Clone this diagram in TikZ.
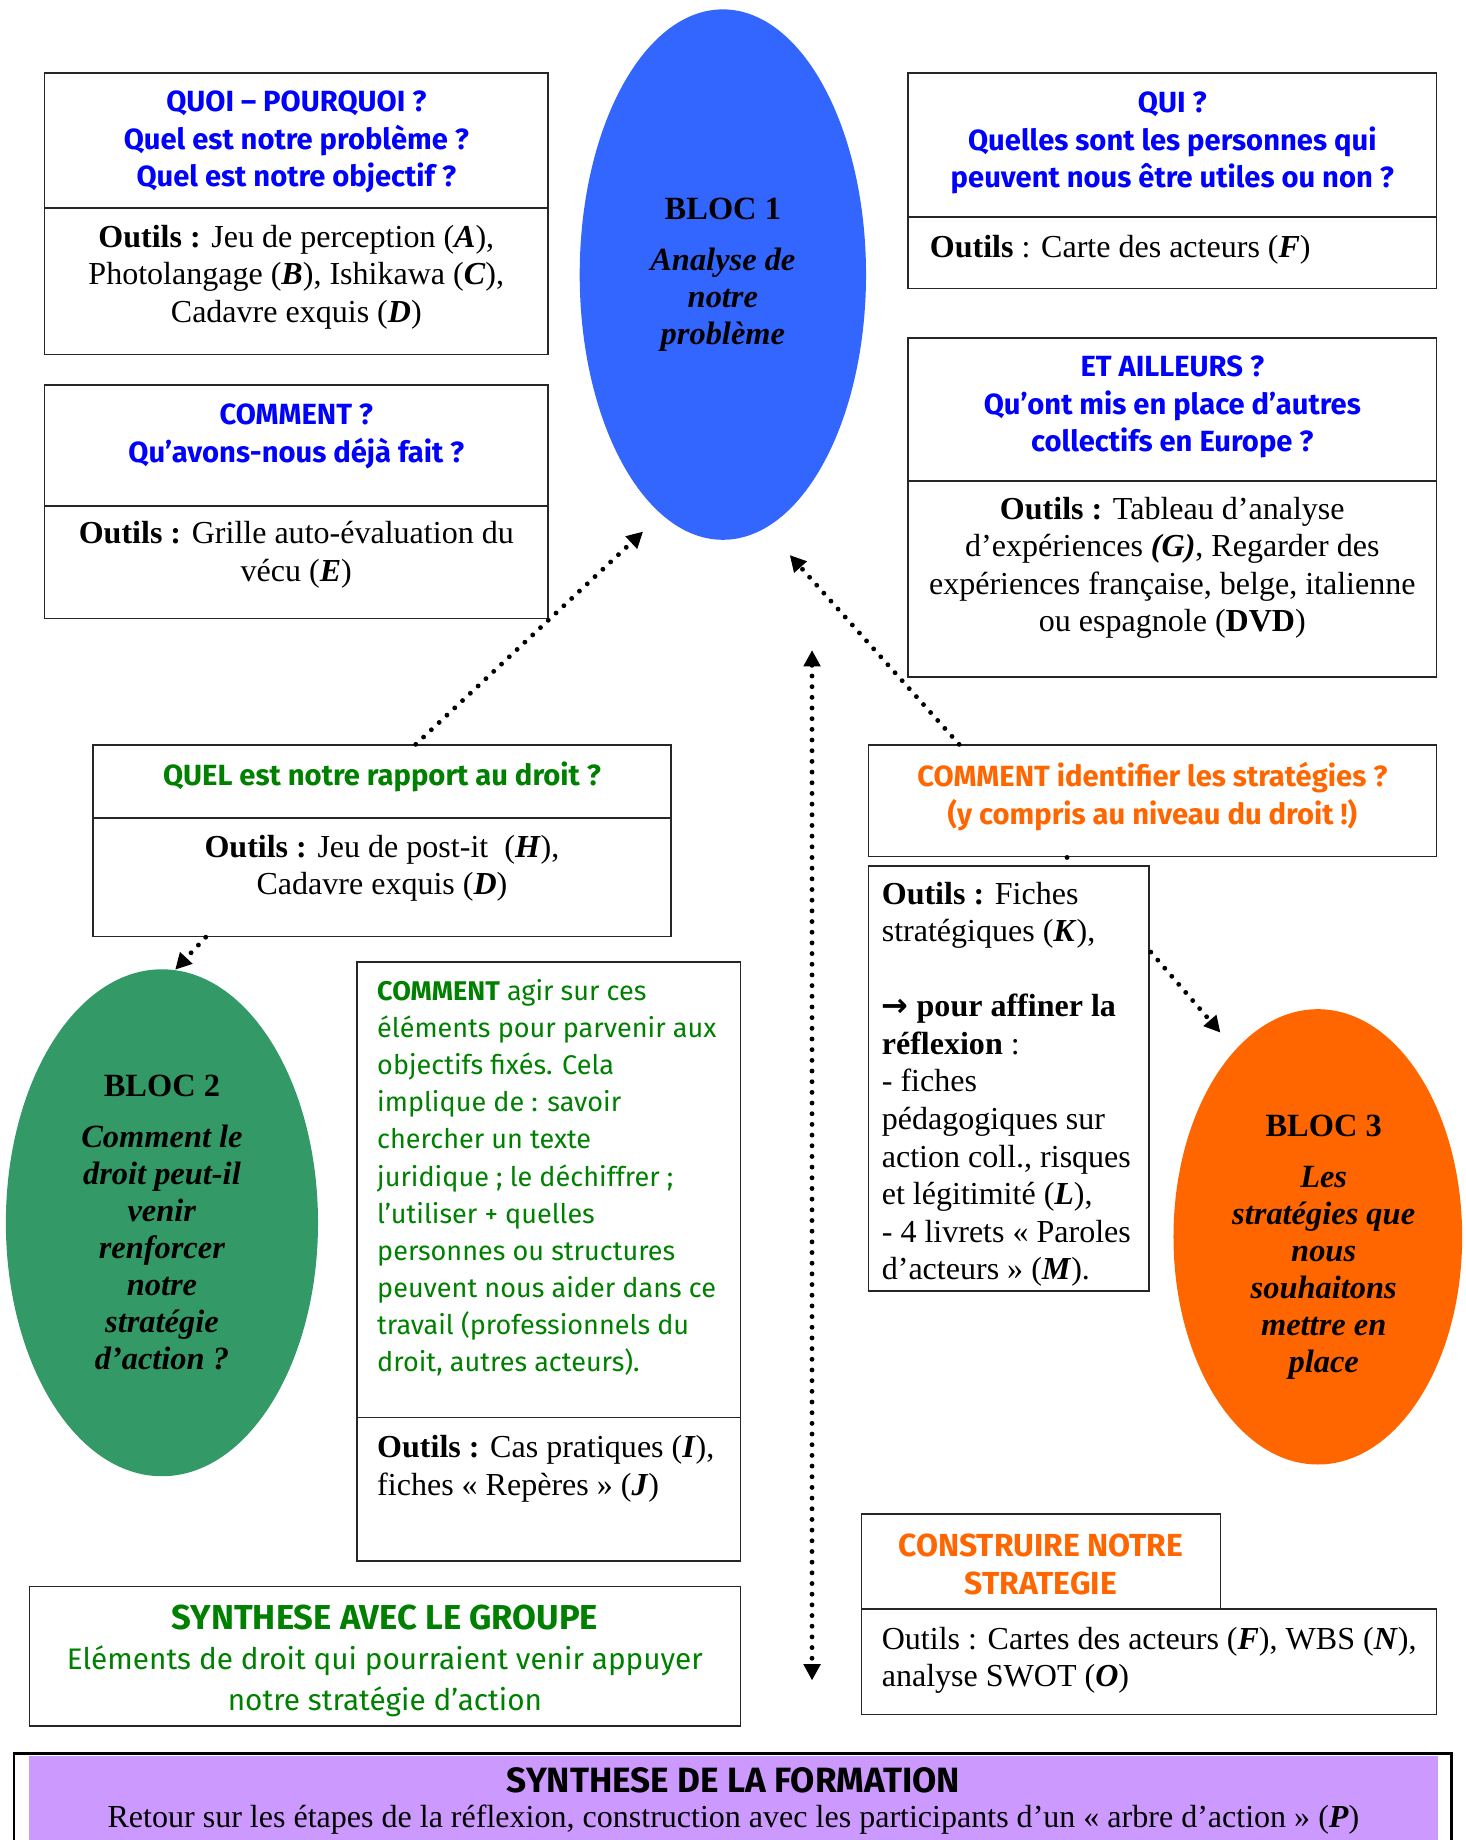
\documentclass[tikz,border=0pt]{standalone}
\usepackage{fontspec}
\setmainfont{Liberation Serif}
\newfontfamily\comic{Fira Sans}
\newfontfamily\symb{DejaVu Sans}
\usetikzlibrary{arrows.meta,calc,fit,shapes.geometric}
\definecolor{ColBlue}{RGB}{0,0,255}
\definecolor{ColGreen}{RGB}{0,128,0}
\definecolor{ColOrange}{RGB}{255,102,0}
\definecolor{BlocBlue}{RGB}{51,102,255}
\definecolor{BlocGreen}{RGB}{51,153,102}
\definecolor{BlocOrange}{RGB}{255,102,0}
\definecolor{Lilac}{RGB}{204,153,255}
\newcommand\pxu{0.015258cm}
\newcommand\Lt[1]{\textbf{\textit{#1}}}
\tikzstyle{Frame}=[draw=black!85,line width=0.6pt,inner sep=0pt]
\tikzstyle{Head}=[font=\comic\bfseries\fontsize{10.8}{13.9}\selectfont,align=center,inner sep=0pt]
\tikzstyle{Plain}=[font=\comic\fontsize{10}{13.75}\selectfont,align=left,inner sep=0pt]
\tikzstyle{Tool}=[font=\fontsize{11.85}{13.9}\selectfont,align=center,inner sep=0pt]
\tikzstyle{Bloc}=[ellipse,inner sep=0pt,align=center,font=\bfseries\fontsize{12}{13.7}\selectfont]
\tikzstyle{Dots}=[line width=1.8pt,line cap=round,dash pattern=on 0pt off 3.95pt]
\tikzstyle{DotArrow}=[Dots,-{Triangle[length=6pt,width=6pt]}]

\begin{document}
\begin{tikzpicture}[x=0.015258cm,y=-0.015258cm]
        \useasboundingbox (0,0) rectangle (1249,1568);
        % left column
        \node[Frame,fit={(38,62)(467,177)}](quoiHead){};
        \node[Frame,fit={(38,177)(467,302)}](quoiTools){};
        \node[Head,text=ColBlue](quoiQ)at(252.5,121){QUOI – POURQUOI ?\\Quel est notre problème ?\\Quel est notre objectif ?};
        \node[Tool](quoiT)at(252.5,236){\textbf{Outils :} Jeu de perception (\Lt{A}),\\Photolangage (\Lt{B}), Ishikawa (\Lt{C}),\\Cadavre exquis (\Lt{D})};
        \node[Frame,fit={(38,328)(467,431)}](commHead){};
        \node[Frame,fit={(38,431)(467,527)}](commTools){};
        \node[Head,text=ColBlue](commQ)at(252.5,372){COMMENT ?\\Qu’avons-nous déjà fait ?};
        \node[Tool](commT)at(252.5,473){\textbf{Outils :} Grille auto-évaluation du\\vécu (\Lt{E})};
        % right column
        \node[Frame,fit={(774,62)(1224,185)}](quiHead){};
        \node[Frame,fit={(774,185)(1224,246)}](quiTools){};
        \node[Head,text=ColBlue](quiQ)at(999,122){QUI ?\\Quelles sont les personnes qui\\peuvent nous être utiles ou non ?};
        \node[Tool,anchor=west](quiT)at(792,213){\textbf{Outils} : Carte des acteurs (\Lt{F})};
        \node[Frame,fit={(774,288)(1224,410)}](ailHead){};
        \node[Frame,fit={(774,410)(1224,577)}](ailTools){};
        \node[Head,text=ColBlue](ailQ)at(999,347){ET AILLEURS ?\\Qu’ont mis en place d’autres\\collectifs en Europe ?};
        \node[Tool](ailT)at(999,484){\textbf{Outils :} Tableau d’analyse\\d’expériences \Lt{(G)}, Regarder des\\expériences française, belge, italienne\\ou espagnole (\textbf{DVD})};
        % blocs
        \node[Bloc,fill=BlocBlue,minimum width=244*\pxu,minimum height=452*\pxu](bloc1)at(616,234){BLOC 1\\[5pt]\textit{Analyse de}\\\textit{notre}\\\textit{problème}};
        \node[Bloc,fill=BlocGreen,minimum width=266*\pxu,minimum height=432*\pxu](bloc2)at(138,1042){BLOC 2\\[5pt]\textit{Comment le}\\\textit{droit peut-il}\\\textit{venir}\\\textit{renforcer}\\\textit{notre}\\\textit{stratégie}\\\textit{d’action ?}};
        \node[Bloc,fill=BlocOrange,minimum width=246*\pxu,minimum height=388*\pxu](bloc3)at(1123,1054){};
        \node[Bloc,fill=none](bloc3T)at(1128,1063){BLOC 3\\[5pt]\textit{Les}\\\textit{stratégies que}\\\textit{nous}\\\textit{souhaitons}\\\textit{mettre en}\\\textit{place}};
        % middle row
        \node[Frame,fit={(79,635)(572,697)}](quelHead){};
        \node[Frame,fit={(79,697)(572,798)}](quelTools){};
        \node[Head,text=ColGreen](quelQ)at(325.5,662){QUEL est notre rapport au droit ?};
        \node[Tool](quelT)at(325.5,740){\textbf{Outils :} Jeu de post-it\ \ (\Lt{H}),\\Cadavre exquis (\Lt{D})};
        \node[Frame,fit={(740,635)(1224,730)}](identBox){};
        \node[Head,text=ColOrange](identQ)at(982,679){COMMENT identifier les stratégies ?\\(y compris au niveau du droit !)};
        \node[Frame,fit={(740,738)(979,1100)}](fichesBox){};
        \node[Tool,align=left,anchor=north west](fichesT)at(751,751){\textbf{Outils :} Fiches\\stratégiques (\Lt{K}),\\[13.9pt]{\symb\bfseries →} \textbf{pour affiner la}\\\textbf{réflexion} :\\- fiches\\pédagogiques sur\\action coll., risques\\et légitimité (\Lt{L}),\\- 4 livrets «~Paroles\\d’acteurs~» (\Lt{M}).};
        \node[Frame,fit={(304,820)(631,1208)}](agirHead){};
        \node[Frame,fit={(304,1208)(631,1330)}](agirTools){};
        \node[Plain,text=ColGreen,anchor=north west](agirQ)at(321,834){\textbf{COMMENT} agir sur ces\\éléments pour parvenir aux\\objectifs fixés. Cela\\implique de : savoir\\chercher un texte\\juridique ; le déchiffrer ;\\l’utiliser + quelles\\personnes ou structures\\peuvent nous aider dans ce\\travail (professionnels du\\droit, autres acteurs).};
        \node[Tool,align=left,anchor=north west](agirT)at(321,1223){\textbf{Outils :} Cas pratiques (\Lt{I}),\\fiches «~Repères~» (\Lt{J})};
        % bottom row
        \node[Frame,fit={(734,1290)(1040,1371)}](buildHead){};
        \node[Frame,fit={(734,1371)(1224,1461)}](buildTools){};
        \node[Head,text=ColOrange,font=\comic\bfseries\fontsize{11.8}{13.9}\selectfont](buildQ)at(887,1333){CONSTRUIRE NOTRE\\STRATEGIE};
        \node[Tool,align=left,anchor=north west](buildT)at(751,1386){Outils : Cartes des acteurs (\Lt{F}), WBS (\Lt{N}),\\analyse SWOT (\Lt{O})};
        \node[Frame,fit={(25,1352)(631,1471)}](synthBox){};
        \node[Plain,align=center,text=ColGreen,font=\comic\fontsize{11}{15}\selectfont](synthT)at(328,1415){{\bfseries\fontsize{12.8}{15}\selectfont SYNTHESE AVEC LE GROUPE}\\Eléments de droit qui pourraient venir appuyer\\notre stratégie d’action};
        \node[draw=black,line width=1pt,inner sep=0pt,fit={(12,1494.5)(1237,1600)}](formFrame){};
        \node[fill=Lilac,inner sep=0pt,fit={(24.7,1496)(1225,1600)}](formBox){};
        \node[Head,font=\comic\bfseries\fontsize{13}{14}\selectfont](formQ)at(625,1517){SYNTHESE DE LA FORMATION};
        \node[Tool](formT)at(625,1551){Retour sur les étapes de la réflexion, construction avec les participants d’un «~arbre d’action~» (\Lt{P})};
        % connectors
        \coordinate(tipA)at(548,453);
        \coordinate(tipB)at(673,473);
        \coordinate(tipC)at(1040,880);
        \coordinate(vTop)at(692,554);
        \coordinate(vBot)at(692,1432);
        \draw[DotArrow]($(quelHead.north west)+(276,0)$)--(tipA);
        \draw[DotArrow]($(identBox.north west)+(78,0)$)--(tipB);
        \draw[DotArrow]($(quelTools.south west)+(97,0)$)--(bloc2.87);
        \draw[DotArrow]($(fichesBox.north east)+(1,74)$)--(tipC);
        \draw[Dots]($(identBox.south west)+(170,0)$)--($(fichesBox.north west)+(170,0)$);
        \draw[Dots,{Triangle[length=6pt,width=6pt]}-{Triangle[length=6pt,width=6pt]}](vTop)--(vBot);
    \end{tikzpicture}
\end{document}
